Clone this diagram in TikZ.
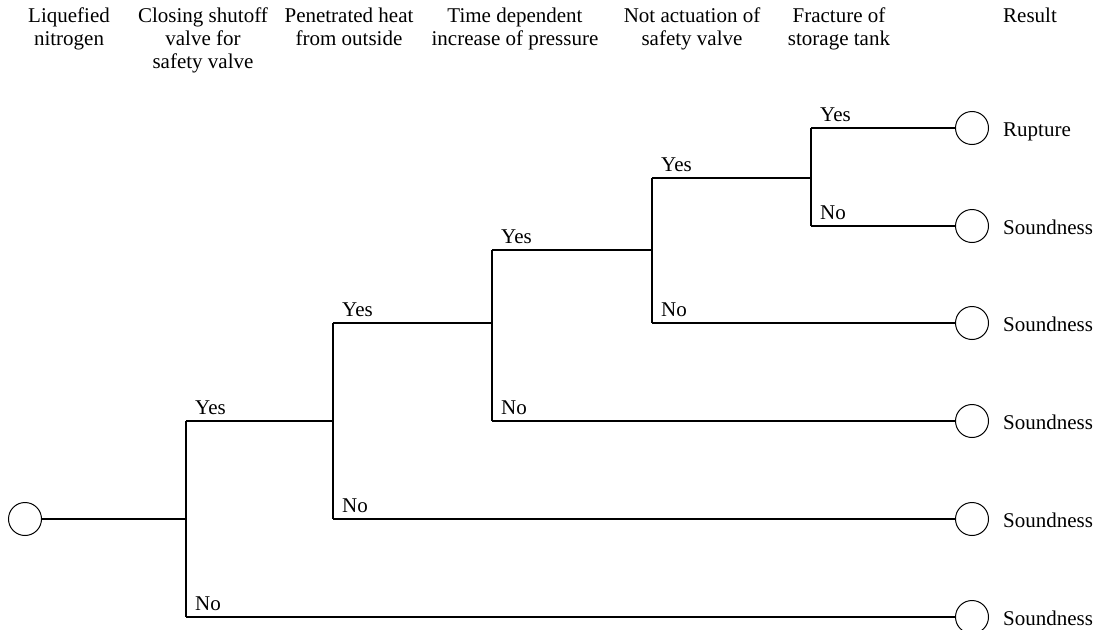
\documentclass[tikz,border=0pt]{standalone}
\usepackage{fontspec}
\setmainfont{Liberation Serif}
\begin{document}
\begin{tikzpicture}[x=1pt,y=-1pt,
  every node/.style={font=\fontsize{21}{23.3}\selectfont},
  circ/.style={draw,circle,line width=1pt,minimum size=33pt,inner sep=0pt},
  branch/.style={line width=2pt},
  hdr/.style={align=center,anchor=north,inner sep=0pt},
  lab/.style={anchor=base west,inner sep=0pt},
  res/.style={anchor=base west,inner sep=0pt}]
\useasboundingbox (0,0) rectangle (1097,629);
\begin{scope}
\clip (0,0) rectangle (1097,629);
% headers
\node[hdr] (h1) at (69,7.3) {Liquefied\\nitrogen};
\node[hdr] (h2) at (203,7.3) {Closing shutoff\\valve for\\safety valve};
\node[hdr] (h3) at (349,7.3) {Penetrated heat\\from outside};
\node[hdr] (h4) at (515,7.3) {Time dependent\\increase of pressure};
\node[hdr] (h5) at (692,7.3) {Not actuation of\\safety valve};
\node[hdr] (h6) at (839,7.3) {Fracture of\\storage tank};
\node[hdr] (h7) at (1030,7.3) {Result};
% start node
\node[circ] (s) at (25,519) {};
% junctions
\coordinate (j1) at (186,519);
\coordinate (j1y) at (186,421);
\coordinate (j1n) at (186,617);
\coordinate (j2) at (333,421);
\coordinate (j2y) at (333,323);
\coordinate (j2n) at (333,519);
\coordinate (j3) at (492,323);
\coordinate (j3y) at (492,250);
\coordinate (j3n) at (492,421);
\coordinate (j4) at (652,250);
\coordinate (j4y) at (652,178);
\coordinate (j4n) at (652,323);
\coordinate (j5) at (811,178);
\coordinate (j5y) at (811,128);
\coordinate (j5n) at (811,226);
% end nodes
\node[circ] (e1) at (972,128) {};
\node[circ] (e2) at (972,226) {};
\node[circ] (e3) at (972,323) {};
\node[circ] (e4) at (972,421) {};
\node[circ] (e5) at (972,519) {};
\node[circ] (e6) at (972,617) {};
% branches
\draw[branch] (s) -- (j1);
\draw[branch] (j1y) -- (j1n);
\draw[branch] (j1y) -- (j2);
\draw[branch] (j1n) -- (e6);
\draw[branch] (j2y) -- (j2n);
\draw[branch] (j2y) -- (j3);
\draw[branch] (j2n) -- (e5);
\draw[branch] (j3y) -- (j3n);
\draw[branch] (j3y) -- (j4);
\draw[branch] (j3n) -- (e4);
\draw[branch] (j4y) -- (j4n);
\draw[branch] (j4y) -- (j5);
\draw[branch] (j4n) -- (e3);
\draw[branch] (j5y) -- (j5n);
\draw[branch] (j5y) -- (e1);
\draw[branch] (j5n) -- (e2);
% branch labels
\node[lab] (l1y) at (195,414) {Yes};
\node[lab] (l1n) at (195,610) {No};
\node[lab] (l2y) at (342,316) {Yes};
\node[lab] (l2n) at (342,512) {No};
\node[lab] (l3y) at (501,243) {Yes};
\node[lab] (l3n) at (501,414) {No};
\node[lab] (l4y) at (661,171) {Yes};
\node[lab] (l4n) at (661,316) {No};
\node[lab] (l5y) at (820,121) {Yes};
\node[lab] (l5n) at (820,219) {No};
% results
\node[res] (r1) at (1003,136) {Rupture};
\node[res] (r2) at (1003,234) {Soundness};
\node[res] (r3) at (1003,331) {Soundness};
\node[res] (r4) at (1003,429) {Soundness};
\node[res] (r5) at (1003,527) {Soundness};
\node[res] (r6) at (1003,625) {Soundness};
\end{scope}
\end{tikzpicture}
\end{document}
